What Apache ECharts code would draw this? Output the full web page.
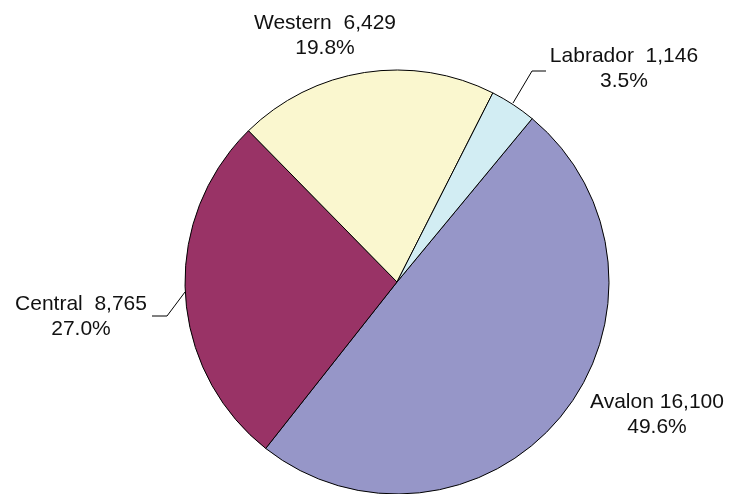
<!DOCTYPE html>
<html>
<head>
<meta charset="utf-8">
<script src="https://cdn.jsdelivr.net/npm/echarts@6/dist/echarts.min.js"></script>
<style>
  html, body { margin: 0; padding: 0; background: #fff; }
  #chart { width: 729px; height: 494px; }
</style>
</head>
<body>
<div id="chart"></div>
<script>
// regions, clockwise from Avalon
const regions = ['Avalon', 'Central', 'Western', 'Labrador'];
const population = [16100, 8765, 6429, 1146];
const sliceColors = ['#9696C8', '#993366', '#FAF7CF', '#D2EDF3'];

// where each label sits (text block centre) and its leader line, if any
const labelSpots = {
  Avalon: { x: 657, y: 415, line: null },
  Central: { x: 81, y: 317, line: [[185, 292], [167, 316], [152, 316]] },
  Western: { x: 325, y: 36, line: null },
  Labrador: { x: 624, y: 69, line: [[513, 103], [532, 71], [546, 71]] }
};

const chart = echarts.init(document.getElementById('chart'));

chart.setOption({
  animation: false,
  textStyle: { fontFamily: 'Liberation Sans, Arial, sans-serif' },
  series: [
    {
      type: 'pie',
      center: [397, 282],
      radius: 212,
      startAngle: 50.4,
      clockwise: true,
      avoidLabelOverlap: false,
      itemStyle: { borderColor: '#000', borderWidth: 1 },
      emphasis: { disabled: true },
      label: {
        show: true,
        color: '#111',
        fontSize: 21,
        lineHeight: 25,
        align: 'center',
        formatter: function (p) {
          const gap = p.name === 'Avalon' ? ' ' : '  ';
          return p.name + gap + p.value.toLocaleString('en-US') + '\n' + p.percent.toFixed(1) + '%';
        }
      },
      labelLine: { show: true, lineStyle: { color: '#000', width: 1 } },
      labelLayout: function (params) {
        const name = regions[params.dataIndex];
        const spot = labelSpots[name];
        const out = { x: spot.x, y: spot.y, align: 'center', verticalAlign: 'middle' };
        if (spot.line) out.labelLinePoints = spot.line;
        return out;
      },
      data: regions.map((name, i) => ({
        name: name,
        value: population[i],
        itemStyle: { color: sliceColors[i] },
        labelLine: { show: labelSpots[name].line !== null }
      }))
    }
  ]
});
</script>
</body>
</html>
